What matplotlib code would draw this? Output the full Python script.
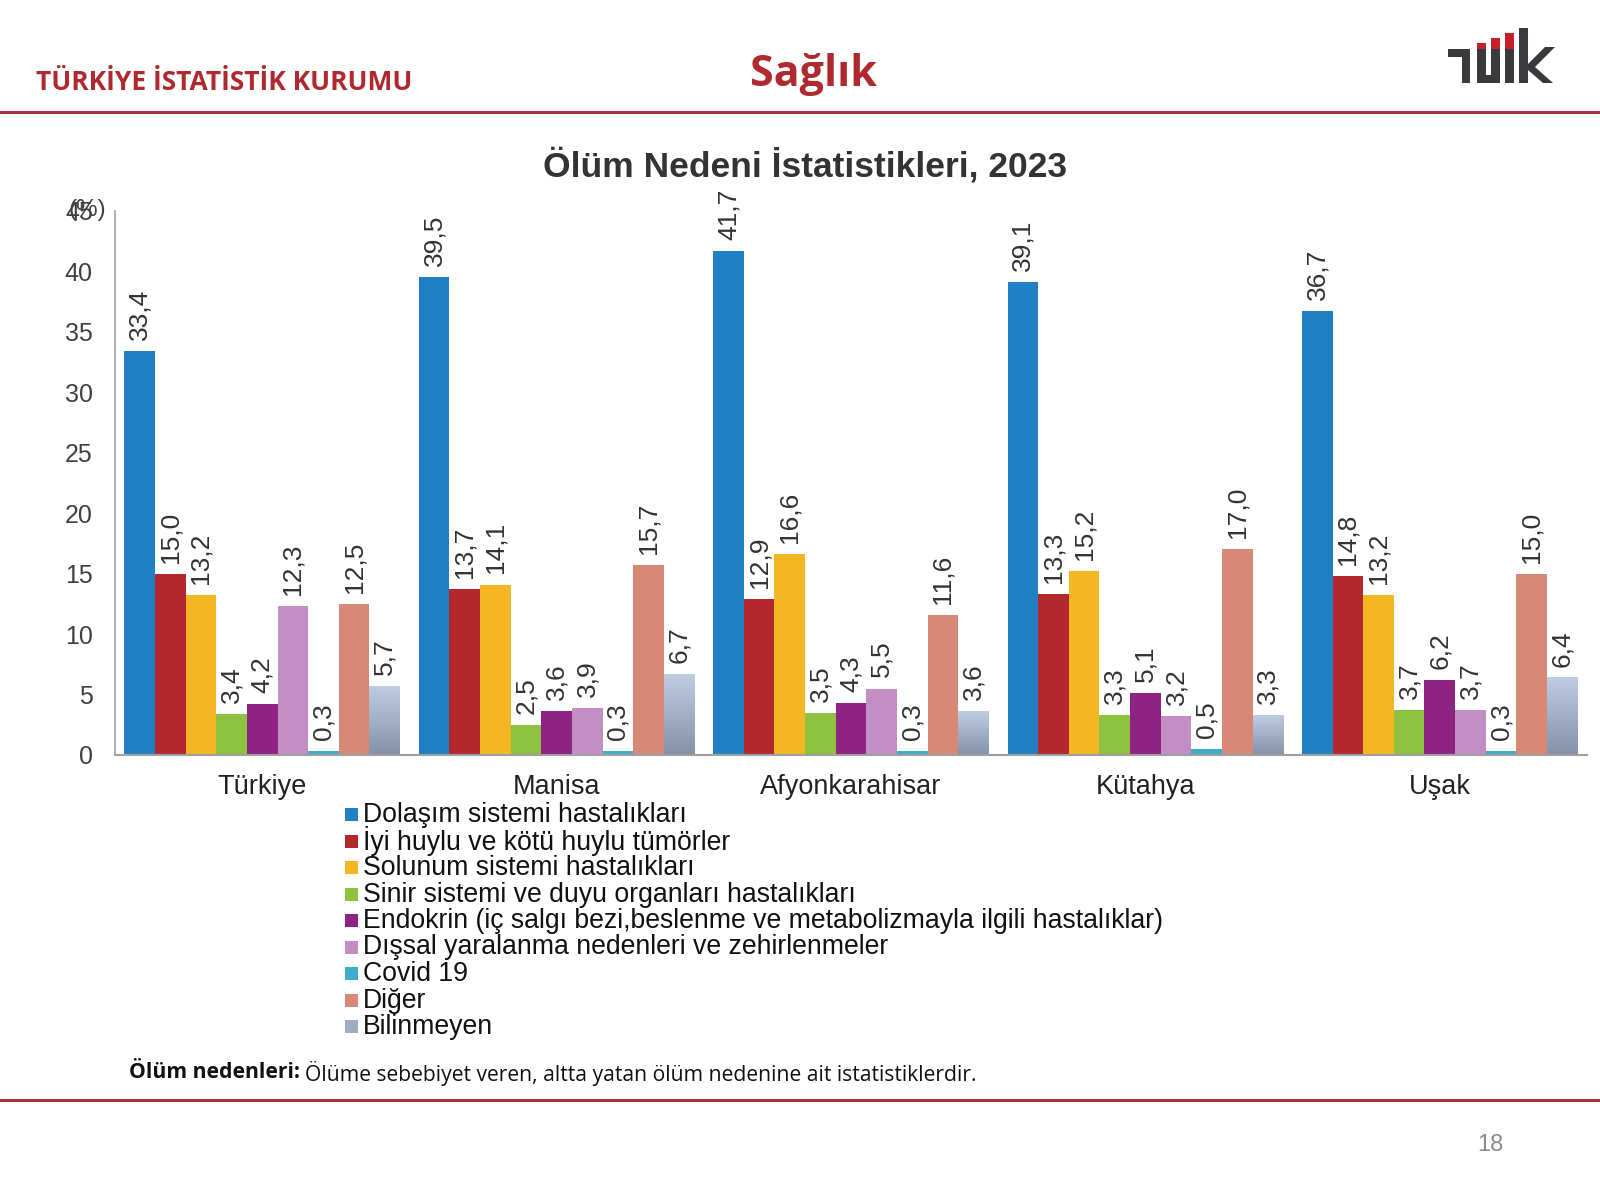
import matplotlib
matplotlib.use("Agg")
import matplotlib.pyplot as plt
import numpy as np
from matplotlib.patches import Rectangle, Polygon
from matplotlib.colors import LinearSegmentedColormap

plt.rcParams['font.family'] = ['Liberation Sans', 'DejaVu Sans']

categories = ["Türkiye", "Manisa", "Afyonkarahisar", "Kütahya", "Uşak"]
series_names = [
    "Dolaşım sistemi hastalıkları",
    "İyi huylu ve kötü huylu tümörler",
    "Solunum sistemi hastalıkları",
    "Sinir sistemi ve duyu organları hastalıkları",
    "Endokrin (iç salgı bezi,beslenme ve metabolizmayla ilgili hastalıklar)",
    "Dışsal yaralanma nedenleri ve zehirlenmeler",
    "Covid 19",
    "Diğer",
    "Bilinmeyen",
]
dolasim   = [33.4, 39.5, 41.7, 39.1, 36.7]
tumor     = [15.0, 13.7, 12.9, 13.3, 14.8]
solunum   = [13.2, 14.1, 16.6, 15.2, 13.2]
sinir     = [3.4, 2.5, 3.5, 3.3, 3.7]
endokrin  = [4.2, 3.6, 4.3, 5.1, 6.2]
dissal    = [12.3, 3.9, 5.5, 3.2, 3.7]
covid     = [0.3, 0.3, 0.3, 0.5, 0.3]
diger     = [12.5, 15.7, 11.6, 17.0, 15.0]
bilinmeyen = [5.7, 6.7, 3.6, 3.3, 6.4]
series_values = [dolasim, tumor, solunum, sinir, endokrin, dissal, covid, diger, bilinmeyen]
yticks = [0, 5, 10, 15, 20, 25, 30, 35, 40, 45]

colors = ["#2180C3", "#B3282F", "#F5B623", "#8DC13F", "#8F2384",
          "#C38EC3", "#3EADC6", "#D88877", "#B4C2D8"]

RED = "#B0292F"
W, H = 1600, 1200
fig = plt.figure(figsize=(16, 12), dpi=100)
fig.patch.set_facecolor("white")

def fx(x): return x / W
def fy(y): return 1 - y / H

# Header
fig.text(fx(36), fy(82), "TÜRKİYE İSTATİSTİK KURUMU", color=RED, fontsize=19,
         fontweight="bold", family=["Open Sans", "DejaVu Sans"], va="center", ha="left")
fig.text(fx(813), fy(74), "Sağlık", color=RED, fontsize=31, fontweight="bold",
         family=["Open Sans", "DejaVu Sans"], va="center", ha="center")
fig.add_artist(Rectangle((0, fy(114)), 1, 3 / H, transform=fig.transFigure,
                         color="#A8323A", lw=0))
fig.add_artist(Rectangle((0, fy(1102)), 1, 3 / H, transform=fig.transFigure,
                         color="#A8323A", lw=0))

# Logo
grey = "#3A3A3C"
def frect(x0, y0, x1, y1, c):
    fig.add_artist(Rectangle((fx(x0), fy(y1)), (x1 - x0) / W, (y1 - y0) / H,
                             transform=fig.transFigure, color=c, lw=0))
frect(1448, 49, 1470, 57, grey)
frect(1462, 49, 1470, 83, grey)
frect(1477, 49, 1486, 83, grey)
frect(1491, 49, 1500, 83, grey)
frect(1477, 75, 1500, 83, grey)
frect(1477, 43, 1486, 49, "#C8202A")
frect(1491, 38, 1500, 49, "#C8202A")
frect(1505, 49, 1514, 83, grey)
frect(1505, 33, 1514, 49, "#C8202A")
frect(1519, 28, 1528, 83, grey)
kpts = [(1528, 64), (1545, 47), (1555, 47), (1535, 67), (1553, 83), (1543, 83), (1528, 70)]
fig.add_artist(Polygon([(fx(a), fy(b)) for a, b in kpts], closed=True,
                       transform=fig.transFigure, color=grey, lw=0))

# Title
fig.text(fx(805), fy(166), "Ölüm Nedeni İstatistikleri, 2023", fontsize=25.5,
         fontweight="bold", color="#333333", ha="center", va="center")

# Axes
ax = fig.add_axes([fx(115), fy(755), (1587 - 115) / W, (755 - 211) / H])
n = len(series_values)
bw = 0.104
x = np.arange(len(categories))
cmap = LinearSegmentedColormap.from_list("g", ["#8591A6", "#BFCDE3"])
grad = np.linspace(0, 1, 256).reshape(-1, 1)
for i, vals in enumerate(series_values):
    xs = x + (i - (n - 1) / 2) * bw
    if i == n - 1:
        bars = ax.bar(xs, vals, width=bw, color="none", lw=0, zorder=2)
        for b in bars:
            ax.imshow(grad, cmap=cmap, origin="lower", aspect="auto",
                      extent=[b.get_x(), b.get_x() + b.get_width(), 0, b.get_height()],
                      zorder=2)
    else:
        ax.bar(xs, vals, width=bw, color=colors[i], lw=0, zorder=2)
    for xi, v in zip(xs, vals):
        ax.annotate(f"{v:.1f}".replace(".", ","), (xi, v), xytext=(0, 8),
                    textcoords="offset points", rotation=90, ha="center", va="bottom",
                    fontsize=19, color="#333333")

ax.set_xlim(-0.5, len(categories) - 0.5)
ax.set_ylim(0, 45)
ax.set_yticks(yticks)
ax.set_yticklabels([str(t) for t in yticks], fontsize=18, color="#404040")
ax.set_xticks(x)
ax.set_xticklabels(categories, fontsize=19.5, color="#222222")
ax.tick_params(axis="both", length=0)
ax.tick_params(axis="y", pad=16)
ax.tick_params(axis="x", pad=14)
for s in ["top", "right"]:
    ax.spines[s].set_visible(False)
ax.spines["left"].set_color("#A0A0A0")
ax.spines["bottom"].set_color("#A0A0A0")
ax.spines["bottom"].set_linewidth(1.5)
ax.spines["left"].set_linewidth(1.2)

# unit label, drawn over the top tick as in the original slide
fig.text(fx(69), fy(210), "(%)", fontsize=17.5, color="#404040", ha="left", va="center")

# Legend
y0 = 815
dy = 26.5
for i, name in enumerate(series_names):
    yy = y0 + i * dy
    frect(345, yy - 7, 358, yy + 6, colors[i] if i < n - 1 else "#9FACC2")
    fig.text(fx(363), fy(yy), name, fontsize=19.2, color="#111111", ha="left", va="center")

# Footnote
t1 = fig.text(fx(129), fy(1073), "Ölüm nedenleri:", fontsize=15.2, fontweight="bold",
              family=["Open Sans", "DejaVu Sans"], ha="left", va="center", color="#111111")
fig.canvas.draw()
bb = t1.get_window_extent()
fig.text(bb.x1 / W + 5 / W, fy(1073),
         "Ölüme sebebiyet veren, altta yatan ölüm nedenine ait istatistiklerdir.",
         fontsize=15.2, family=["Open Sans", "DejaVu Sans"], ha="left", va="center",
         color="#111111")

fig.text(fx(1490), fy(1145), "18", fontsize=17, color="#8C8C8C", ha="center", va="center")

fig.savefig("out.png", dpi=100, facecolor="white")
